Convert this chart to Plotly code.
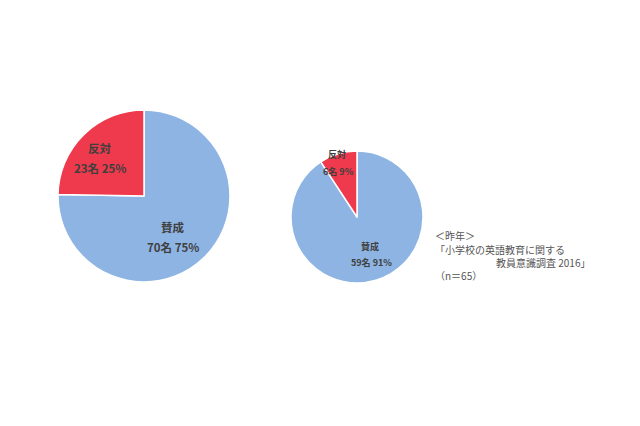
import plotly.graph_objects as go

labels = ["賛成", "反対"]
current_values = [70, 23]
last_year_values = [59, 6]
colors = ["#8DB4E2", "#EE3A4C"]

note_lines = ["＜昨年＞", "「小学校の英語教育に関する", "教員意識調査 2016」", "（n＝65）"]

W, H = 640, 426


def pct(v, total):
    return f"{round(100 * v / total)}%"


fig = go.Figure()
fig.add_trace(go.Pie(
    labels=labels, values=current_values, sort=False, direction="clockwise", rotation=0,
    marker=dict(colors=colors, line=dict(color="white", width=1.5)),
    textinfo="none",
    domain=dict(x=[58 / W, 230 / W], y=[1 - 282 / H, 1 - 110 / H]),
    showlegend=False, hoverinfo="skip",
))
fig.add_trace(go.Pie(
    labels=labels, values=last_year_values, sort=False, direction="clockwise", rotation=0,
    marker=dict(colors=colors, line=dict(color="white", width=1.5)),
    textinfo="none",
    domain=dict(x=[291 / W, 423 / W], y=[1 - 283 / H, 1 - 151 / H]),
    showlegend=False, hoverinfo="skip",
))

label_color = "#3f3f3f"
font_big = dict(family="Noto Sans CJK JP", size=11.5, color=label_color)
font_small = dict(family="Noto Sans CJK JP", size=9, color=label_color)

tot1 = sum(current_values)
tot2 = sum(last_year_values)
pos_big = [(173, 227, 173, 247), (100, 148, 100, 168)]
pos_small = [(370, 246, 371, 262), (337, 154, 338, 171)]

for i, lab in enumerate(labels):
    for vals, tot, pos, fnt in ((current_values, tot1, pos_big, font_big),
                                (last_year_values, tot2, pos_small, font_small)):
        nx, ny, vx, vy = pos[i]
        fig.add_annotation(x=nx / W, y=1 - ny / H, xref="paper", yref="paper",
                           text=f"<b>{lab}</b>", showarrow=False, font=fnt,
                           xanchor="center", yanchor="middle", borderpad=0)
        fig.add_annotation(x=vx / W, y=1 - vy / H, xref="paper", yref="paper",
                           text=f"<b>{vals[i]}名 {pct(vals[i], tot)}</b>", showarrow=False, font=fnt,
                           xanchor="center", yanchor="middle", borderpad=0)

note_font = dict(family="Noto Sans CJK JP", size=10, color="#555555")
note_pos = [(434, 235.5, "left"), (434, 249.5, "left"), (591, 262.5, "right"), (434, 275.5, "left")]
for line, (x, y, anchor) in zip(note_lines, note_pos):
    fig.add_annotation(x=x / W, y=1 - y / H, xref="paper", yref="paper", xanchor=anchor,
                       yanchor="middle", text=line, showarrow=False, font=note_font, borderpad=0)

fig.update_layout(
    width=W, height=H, margin=dict(l=0, r=0, t=0, b=0),
    paper_bgcolor="white", plot_bgcolor="white",
)
fig.write_html("out.html", post_script="document.body.style.margin='0';",
               config={"displayModeBar": False})
